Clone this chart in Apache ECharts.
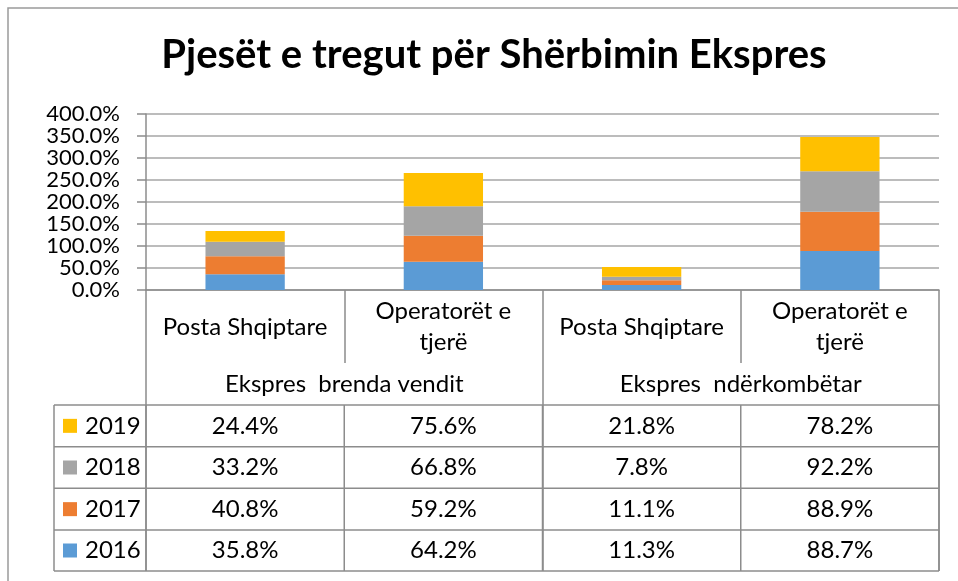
<!DOCTYPE html>
<html>
<head>
<meta charset="utf-8">
<script src="https://cdn.jsdelivr.net/npm/echarts@6/dist/echarts.min.js"></script>
<style>
html,body{margin:0;padding:0;background:#fff;}
#c{width:958px;height:581px;}
</style>
</head>
<body>
<div id="c"></div>
<script>
const titleText = 'Pjesët e tregut për Shërbimin Ekspres';
const categories = ['Posta Shqiptare', 'Operatorët e tjerë', 'Posta Shqiptare', 'Operatorët e tjerë'];
const groups = ['Ekspres  brenda vendit', 'Ekspres  ndërkombëtar'];
const years = ['2016', '2017', '2018', '2019'];
const v2016 = [35.8, 64.2, 11.3, 88.7];
const v2017 = [40.8, 59.2, 11.1, 88.9];
const v2018 = [33.2, 66.8, 7.8, 92.2];
const v2019 = [24.4, 75.6, 21.8, 78.2];
const yTicks = [0, 50, 100, 150, 200, 250, 300, 350, 400];
const colors = ['#5B9BD5', '#ED7D31', '#A5A5A5', '#FFC000'];
const seriesValues = [v2016, v2017, v2018, v2019];

const FONT = 'Lato, "Open Sans", sans-serif';
const GRID = '#a6a6a6';
const AXIS = '#8c8c8c';
const FS = 24;

const chart = echarts.init(document.getElementById('c'), null, {renderer: 'canvas'});

const option = {
  animation: false,
  backgroundColor: '#fff',
  textStyle: {fontFamily: FONT, color: '#000'},
  title: {
    text: titleText,
    left: 489,
    textAlign: 'center',
    top: 30,
    textStyle: {fontFamily: FONT, fontWeight: 'bold', fontSize: 40, color: '#000'}
  },
  grid: {left: 146, right: 19, top: 114, bottom: 291, containLabel: false},
  xAxis: [
    {
      type: 'category',
      data: categories,
      position: 'bottom',
      axisLine: {show: true, lineStyle: {color: AXIS, width: 1.5}},
      axisTick: {show: true, length: 73, lineStyle: {color: AXIS, width: 1.5}},
      axisLabel: {
        interval: 0,
        margin: 37,
        verticalAlign: 'middle',
        fontFamily: FONT,
        fontSize: FS,
        lineHeight: 31,
        color: '#000',
        formatter: function (v) { return v.length > 16 ? v.replace(/ (\S+)$/, '\n$1') : v; }
      }
    },
    {
      type: 'category',
      data: groups,
      position: 'bottom',
      offset: 0,
      axisLine: {show: false},
      axisTick: {show: true, length: 281, lineStyle: {color: AXIS, width: 1.5}},
      axisLabel: {
        interval: 0,
        margin: 94,
        verticalAlign: 'middle',
        fontFamily: FONT,
        fontSize: FS,
        color: '#000'
      }
    }
  ],
  yAxis: {
    type: 'value',
    min: 0,
    max: 400,
    interval: 50,
    axisLine: {show: true, lineStyle: {color: AXIS, width: 1.5}},
    axisTick: {show: true, length: 9, lineStyle: {color: AXIS, width: 1.5}},
    splitLine: {show: true, lineStyle: {color: GRID, width: 1.5}},
    axisLabel: {
      margin: 26,
      fontFamily: FONT,
      fontSize: 22,
      color: '#000',
      formatter: function (v) { return v.toFixed(1) + '%'; }
    }
  },
  series: years.map(function (y, i) {
    return {
      name: y,
      type: 'bar',
      stack: 'total',
      xAxisIndex: 0,
      barWidth: '40%',
      itemStyle: {color: colors[i]},
      data: seriesValues[i]
    };
  })
};
chart.setOption(option);

// Data table below the axis
function buildTable() {
  const colX = categories.map(function (c, i) { return chart.convertToPixel({xAxisIndex: 0}, i); });
  const step = colX[1] - colX[0];
  const xLeftPlot = colX[0] - step / 2;
  const bounds = [xLeftPlot];
  for (let i = 0; i < categories.length; i++) bounds.push(xLeftPlot + step * (i + 1));
  const tableLeft = 54;
  const rowTops = [405, 446.7, 488.3, 530, 571];
  const els = [];
  const ls = {stroke: AXIS, lineWidth: 1.5};
  rowTops.forEach(function (y) {
    els.push({type: 'line', shape: {x1: tableLeft, y1: y, x2: bounds[bounds.length - 1], y2: y}, style: ls, silent: true});
  });
  const vx = [tableLeft].concat(bounds);
  vx.forEach(function (x) {
    els.push({type: 'line', shape: {x1: x, y1: rowTops[0], x2: x, y2: rowTops[rowTops.length - 1]}, style: ls, silent: true});
  });
  for (let r = 0; r < years.length; r++) {
    const si = years.length - 1 - r;
    const yc = (rowTops[r] + rowTops[r + 1]) / 2;
    els.push({type: 'rect', shape: {x: 63, y: yc - 7, width: 14, height: 14}, style: {fill: colors[si]}, silent: true});
    els.push({type: 'text', x: 85, y: yc, style: {text: years[si], fontFamily: FONT, fontSize: FS, fill: '#000', textAlign: 'left', textVerticalAlign: 'middle'}, silent: true});
    for (let c = 0; c < categories.length; c++) {
      els.push({type: 'text', x: colX[c], y: yc, style: {text: seriesValues[si][c].toFixed(1) + '%', fontFamily: FONT, fontSize: FS, fill: '#000', textAlign: 'center', textVerticalAlign: 'middle'}, silent: true});
    }
  }
  els.push({type: 'rect', shape: {x: 8, y: 8, width: 2000, height: 2000}, style: {fill: 'none', stroke: '#9a9a9a', lineWidth: 1.5}, silent: true, z: -1});
  chart.setOption({graphic: els});
}
buildTable();
</script>
</body>
</html>
